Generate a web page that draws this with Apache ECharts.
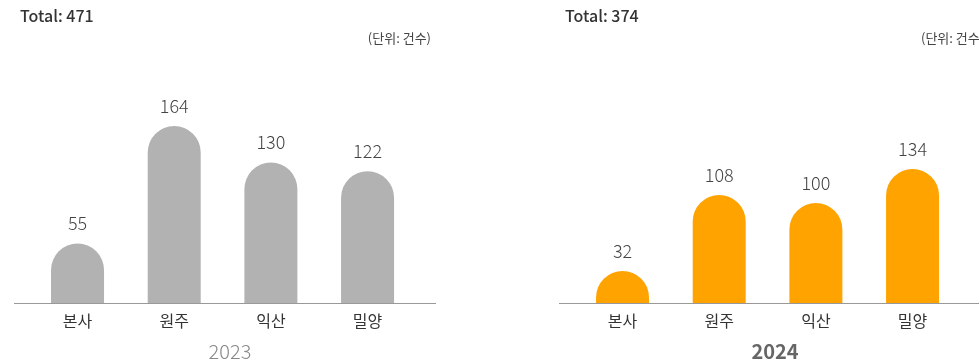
<!DOCTYPE html>
<html>
<head>
<meta charset="utf-8">
<script src="https://cdn.jsdelivr.net/npm/echarts@6/dist/echarts.min.js"></script>
<style>
  html, body { margin: 0; padding: 0; background: #fff; }
  #chart { width: 979px; height: 364px; }
</style>
</head>
<body>
<div id="chart"></div>
<script>
// Sites and yearly case counts
const categories = ['본사', '원주', '익산', '밀양'];
const values2023 = [55, 164, 130, 122];
const values2024 = [32, 108, 100, 134];
const totals = ['Total: 471', 'Total: 374'];
const years = ['2023', '2024'];
const unitLabel = '(단위: 건수)';

const FONT = '"Noto Sans CJK KR", "Noto Sans", sans-serif';
const PANEL_SHIFT = 545;
const BASE_Y = 303;

const chart = echarts.init(document.getElementById('chart'), null, { renderer: 'canvas' });

function grid(offset, height) {
  return { left: 29.2 + offset, width: 386.7, top: BASE_Y - height, height: height, containLabel: false };
}

function xAxis(idx) {
  return {
    type: 'category', gridIndex: idx, data: categories,
    axisLine: { show: false }, axisTick: { show: false },
    axisLabel: { margin: 10, fontSize: 16, color: '#333', fontFamily: FONT }
  };
}

function yAxis(idx) {
  return { type: 'value', gridIndex: idx, min: 0, max: 200, show: false, splitLine: { show: false } };
}

function barSeries(idx, data, color) {
  return {
    type: 'bar', xAxisIndex: idx, yAxisIndex: idx, data: data,
    barWidth: 53,
    itemStyle: { color: color, borderRadius: [26.5, 26.5, 0, 0] },
    label: {
      show: true, position: 'top', distance: 11,
      fontSize: 18, fontWeight: 300, color: '#444', fontFamily: FONT
    },
    silent: true
  };
}

function axisLine(offset) {
  return {
    type: 'line',
    shape: { x1: 14 + offset, y1: BASE_Y + 0.5, x2: 436 + offset, y2: BASE_Y + 0.5 },
    style: { stroke: '#999', lineWidth: 1 }
  };
}

const totalStyle = { fontSize: 16, fontWeight: 500, color: '#333', fontFamily: FONT };
const unitStyle = { fontSize: 13, fontWeight: 'normal', color: '#444', fontFamily: FONT };

chart.setOption({
  animation: false,
  title: [
    { text: totals[0], left: 15, top: 3, textStyle: totalStyle },
    { text: totals[1], left: 15 + PANEL_SHIFT, top: 3, textStyle: totalStyle },
    { text: unitLabel, right: 979 - 436, top: 27, textStyle: unitStyle },
    { text: unitLabel, left: 916, top: 27, textStyle: unitStyle },
    { text: years[0], left: 225, textAlign: 'center', top: 336, textStyle: { fontSize: 20, fontWeight: 300, color: '#888', fontFamily: FONT } },
    { text: years[1], left: 225 + PANEL_SHIFT, textAlign: 'center', top: 336, textStyle: { fontSize: 20, fontWeight: 'bold', color: '#666', fontFamily: FONT } }
  ],
  grid: [grid(0, 216), grid(PANEL_SHIFT, 200)],
  xAxis: [xAxis(0), xAxis(1)],
  yAxis: [yAxis(0), yAxis(1)],
  series: [barSeries(0, values2023, '#b2b2b2'), barSeries(1, values2024, '#ffa300')],
  graphic: [axisLine(0), axisLine(PANEL_SHIFT)]
});
</script>
</body>
</html>
